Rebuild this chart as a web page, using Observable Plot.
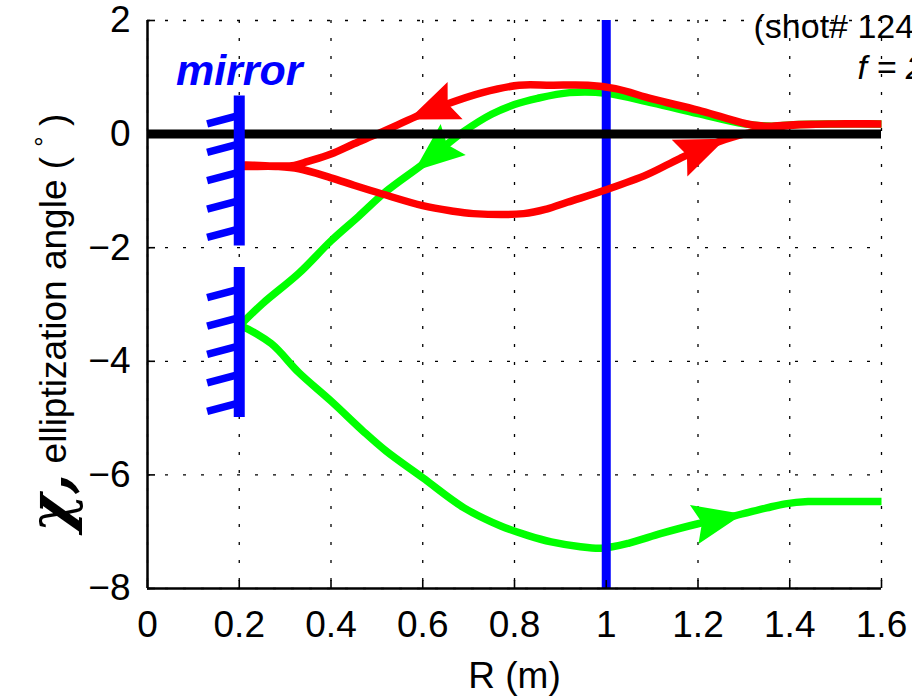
<!DOCTYPE html>
<html><head><meta charset="utf-8">
<script src="https://cdn.jsdelivr.net/npm/d3@7"></script>
<script src="https://cdn.jsdelivr.net/npm/@observablehq/plot@0.6"></script>
<style>html,body{margin:0;padding:0;background:#fff;overflow:hidden}</style>
</head><body><div id="chart"></div>
<script>
// ---- tick values ----
const xTicks = [0, 0.2, 0.4, 0.6, 0.8, 1, 1.2, 1.4, 1.6];
const yTicks = [-8, -6, -4, -2, 0, 2];

// ---- red beam: inbound (R=1.6 -> mirror), then reflected outbound ----
const redInR    = [1.6, 1.5, 1.42, 1.36, 1.32, 1.27, 1.2, 1.1, 1.02, 0.96, 0.88, 0.81, 0.73, 0.65, 0.6, 0.55, 0.5, 0.45, 0.4, 0.35, 0.32, 0.28, 0.2];
const redInChi  = [0.18, 0.18, 0.17, 0.14, 0.16, 0.26, 0.42, 0.62, 0.8, 0.86, 0.86, 0.86, 0.73, 0.52, 0.36, 0.18, 0.0, -0.17, -0.35, -0.48, -0.55, -0.56, -0.55];
const redOutR   = [0.2, 0.28, 0.33, 0.4, 0.45, 0.51, 0.6, 0.66, 0.71, 0.82, 0.87, 0.915, 1.0, 1.09, 1.16, 1.23, 1.29, 1.34, 1.4, 1.5, 1.6];
const redOutChi = [-0.56, -0.57, -0.61, -0.77, -0.9, -1.05, -1.26, -1.35, -1.4, -1.4, -1.32, -1.2, -0.98, -0.71, -0.43, -0.18, -0.02, 0.07, 0.15, 0.18, 0.18];

// ---- green beam ----
const greenInR    = [1.6, 1.5, 1.42, 1.36, 1.3, 1.2, 1.1, 1.0, 0.92, 0.85, 0.8, 0.75, 0.69, 0.65, 0.6, 0.52, 0.46, 0.4, 0.33, 0.25, 0.2];
const greenInChi  = [0.18, 0.18, 0.17, 0.14, 0.18, 0.36, 0.55, 0.72, 0.73, 0.63, 0.52, 0.35, 0.05, -0.2, -0.53, -1.01, -1.45, -1.88, -2.45, -2.99, -3.38];
const greenOutR   = [0.2, 0.21, 0.27, 0.33, 0.4, 0.47, 0.52, 0.6, 0.69, 0.77, 0.83, 0.88, 0.94, 0.99, 1.05, 1.12, 1.2, 1.28, 1.35, 1.39, 1.44, 1.5, 1.6];
const greenOutChi = [-3.38, -3.4, -3.69, -4.2, -4.7, -5.23, -5.58, -6.05, -6.58, -6.9, -7.07, -7.18, -7.26, -7.29, -7.2, -7.03, -6.86, -6.72, -6.58, -6.51, -6.47, -6.47, -6.47];

// ---- arrow heads (which branch, at which R) ----
const arrowCurve = ["greenIn", "greenOut", "redIn", "redOut"];
const arrowR     = [0.624, 1.245, 0.62, 1.21];

// ---- mirror and probe line ----
const mirrorR      = 0.2;
const mirrorTop    = [0.67, -2.35];
const mirrorBottom = [-1.97, -4.99];
const hatchChi     = [0.33, -0.17, -0.67, -1.17, -1.67, -2.73, -3.23, -3.73, -4.23, -4.73];
const probeR  = [1];
const zeroChi = [0];

const mirrorLabel = [{R: 0.2, chi: 0.86, text: "mirror"}];

// ---- build tables ----
const pts = (R, C) => R.map((r, i) => ({R: r, chi: C[i]}));
const redPts = pts(redInR, redInChi).concat(pts(redOutR, redOutChi));
const greenPts = pts(greenInR, greenInChi).concat(pts(greenOutR, greenOutChi));
const mirrors = mirrorTop.map((t, i) => ({top: t, bottom: mirrorBottom[i]}));
const curves = {
  redIn: [redInR, redInChi], redOut: [redOutR, redOutChi],
  greenIn: [greenInR, greenInChi], greenOut: [greenOutR, greenOutChi]
};

const W = 912, H = 698, mL = 147, mR = 31, mT = 20, mB = 110;
const FONT = "'Liberation Sans', Arial, Helvetica, sans-serif";
const RED = "#ff0000", GREEN = "#00ff00", BLUE = "#0000ff";

const arrowHead = {
  draw(context, size) {
    const r = Math.sqrt(size / Math.PI);
    context.moveTo(0, -r);
    context.lineTo(0.8 * r, r);
    context.lineTo(0, 0.68 * r);
    context.lineTo(-0.8 * r, r);
    context.closePath();
  }
};

function build(arrowsRed, arrowsGreen) {
  const lineOpts = {x: "R", y: "chi", strokeWidth: 7.5, strokeLinejoin: "round", strokeLinecap: "butt", curve: "catmull-rom"};
  const marks = [
    Plot.ruleX(xTicks, {x: d => d, stroke: "#000", strokeWidth: 1.3, strokeDasharray: "3,15"}),
    Plot.ruleY(yTicks, {y: d => d, stroke: "#000", strokeWidth: 1.3, strokeDasharray: "3,15"}),
    Plot.line(greenPts, {...lineOpts, stroke: GREEN}),
  ];
  if (arrowsGreen) marks.push(Plot.dot(arrowsGreen, {x: "R", y: "chi", r: 25, symbol: arrowHead, rotate: "angle", fill: GREEN, stroke: "none"}));
  marks.push(Plot.ruleX(probeR, {x: d => d, stroke: BLUE, strokeWidth: 9}));
  marks.push(Plot.line(redPts, {...lineOpts, stroke: RED}));
  if (arrowsRed) marks.push(Plot.dot(arrowsRed, {x: "R", y: "chi", r: 25, symbol: arrowHead, rotate: "angle", fill: RED, stroke: "none"}));
  marks.push(
    Plot.ruleY(zeroChi, {y: d => d, stroke: "#000", strokeWidth: 9}),
    Plot.link(hatchChi, {x1: mirrorR, y1: d => d, x2: 0.13, y2: d => d - 0.15, stroke: BLUE, strokeWidth: 7.5}),
    Plot.ruleX(mirrors, {x: mirrorR, y1: "top", y2: "bottom", stroke: BLUE, strokeWidth: 11}),
    Plot.ruleX([0], {x: d => d, stroke: "#000", strokeWidth: 2.5}),
    Plot.ruleY([-8], {y: d => d, stroke: "#000", strokeWidth: 2.5}),
    Plot.tickX(xTicks, {x: d => d, insetTop: H - mT - mB - 8, stroke: "#000", strokeWidth: 1.6}),
    Plot.tickY(yTicks, {y: d => d, insetRight: W - mL - mR - 8, stroke: "#000", strokeWidth: 1.6}),
    Plot.text(mirrorLabel, {x: "R", y: "chi", text: "text", fill: BLUE, fontSize: 43, fontWeight: "bold", fontStyle: "italic", textAnchor: "middle", lineAnchor: "bottom"}),
    Plot.text(["R (m)"], {text: d => d, frameAnchor: "bottom", dy: 99, lineAnchor: "bottom", textAnchor: "middle", fill: "#000"}),
    Plot.text(["(shot# 124"], {text: d => d, frameAnchor: "top-right", dx: -128, dy: 17, textAnchor: "start", lineAnchor: "bottom", fontSize: 34, fill: "#000"}),
    Plot.text(["f = 2"], {text: d => d, frameAnchor: "top-right", dx: -24, dy: 58, textAnchor: "start", lineAnchor: "bottom", fontSize: 34, fontStyle: "italic", fill: "#000"})
  );
  return Plot.plot({
    width: W, height: H, marginLeft: mL, marginRight: mR, marginTop: mT, marginBottom: mB,
    style: {fontFamily: FONT, fontSize: "37px", background: "#fff", color: "#000", overflow: "hidden"},
    x: {domain: [0, 1.6], ticks: xTicks, tickSize: 0, tickPadding: 22, tickFormat: d => String(d), label: null},
    y: {domain: [-8, 2], ticks: yTicks, tickSize: 0, tickPadding: 17, tickFormat: d => d < 0 ? "\u2212" + (-d) : String(d), label: null},
    marks
  });
}

// first pass: get the scales so arrow heads follow the drawn curves
const base = build(null, null);
const sx = base.scale("x"), sy = base.scale("y");
function at(R, C, r) {
  for (let i = 0; i < R.length - 1; i++) {
    const a = R[i], b = R[i + 1];
    if (a !== b && (a - r) * (b - r) <= 0) {
      const t = (r - a) / (b - a);
      return {chi: C[i] + t * (C[i + 1] - C[i]), s: Math.sign(b - a)};
    }
  }
  return null;
}
const arrows = arrowCurve.map((c, k) => {
  const [R, C] = curves[c];
  const r = arrowR[k];
  const p = at(R, C, r);
  const p0 = at(R, C, r - 0.03 * p.s), p1 = at(R, C, r + 0.03 * p.s);
  const dx = sx.apply(r + 0.03 * p.s) - sx.apply(r - 0.03 * p.s);
  const dy = sy.apply(p1.chi) - sy.apply(p0.chi);
  return {curve: c, R: r, chi: p.chi, angle: Math.atan2(dx, -dy) * 180 / Math.PI};
});
const chart = build(arrows.filter(d => d.curve.startsWith("red")), arrows.filter(d => d.curve.startsWith("green")));
document.getElementById("chart").appendChild(chart);

// y-axis title with mixed fonts
const svgSel = d3.select(chart.tagName.toLowerCase() === "svg" ? chart : chart.querySelector("svg"));
const t = svgSel.append("text")
  .attr("transform", "translate(66,532) rotate(-90)")
  .attr("text-anchor", "start")
  .attr("fill", "#000").attr("font-family", FONT).attr("font-size", 37);
t.append("tspan").attr("font-family", "'DejaVu Serif','Liberation Serif',serif")
  .attr("font-weight", "bold").attr("font-style", "italic").attr("font-size", 58).attr("dy", 4).text("\u03C7,");
t.append("tspan").attr("dy", -4).text(" elliptization angle ( ");
t.append("tspan").attr("dy", -13).attr("font-size", 26).text("\u00B0");
t.append("tspan").attr("dy", 13).text(" )");
</script>
</body></html>
